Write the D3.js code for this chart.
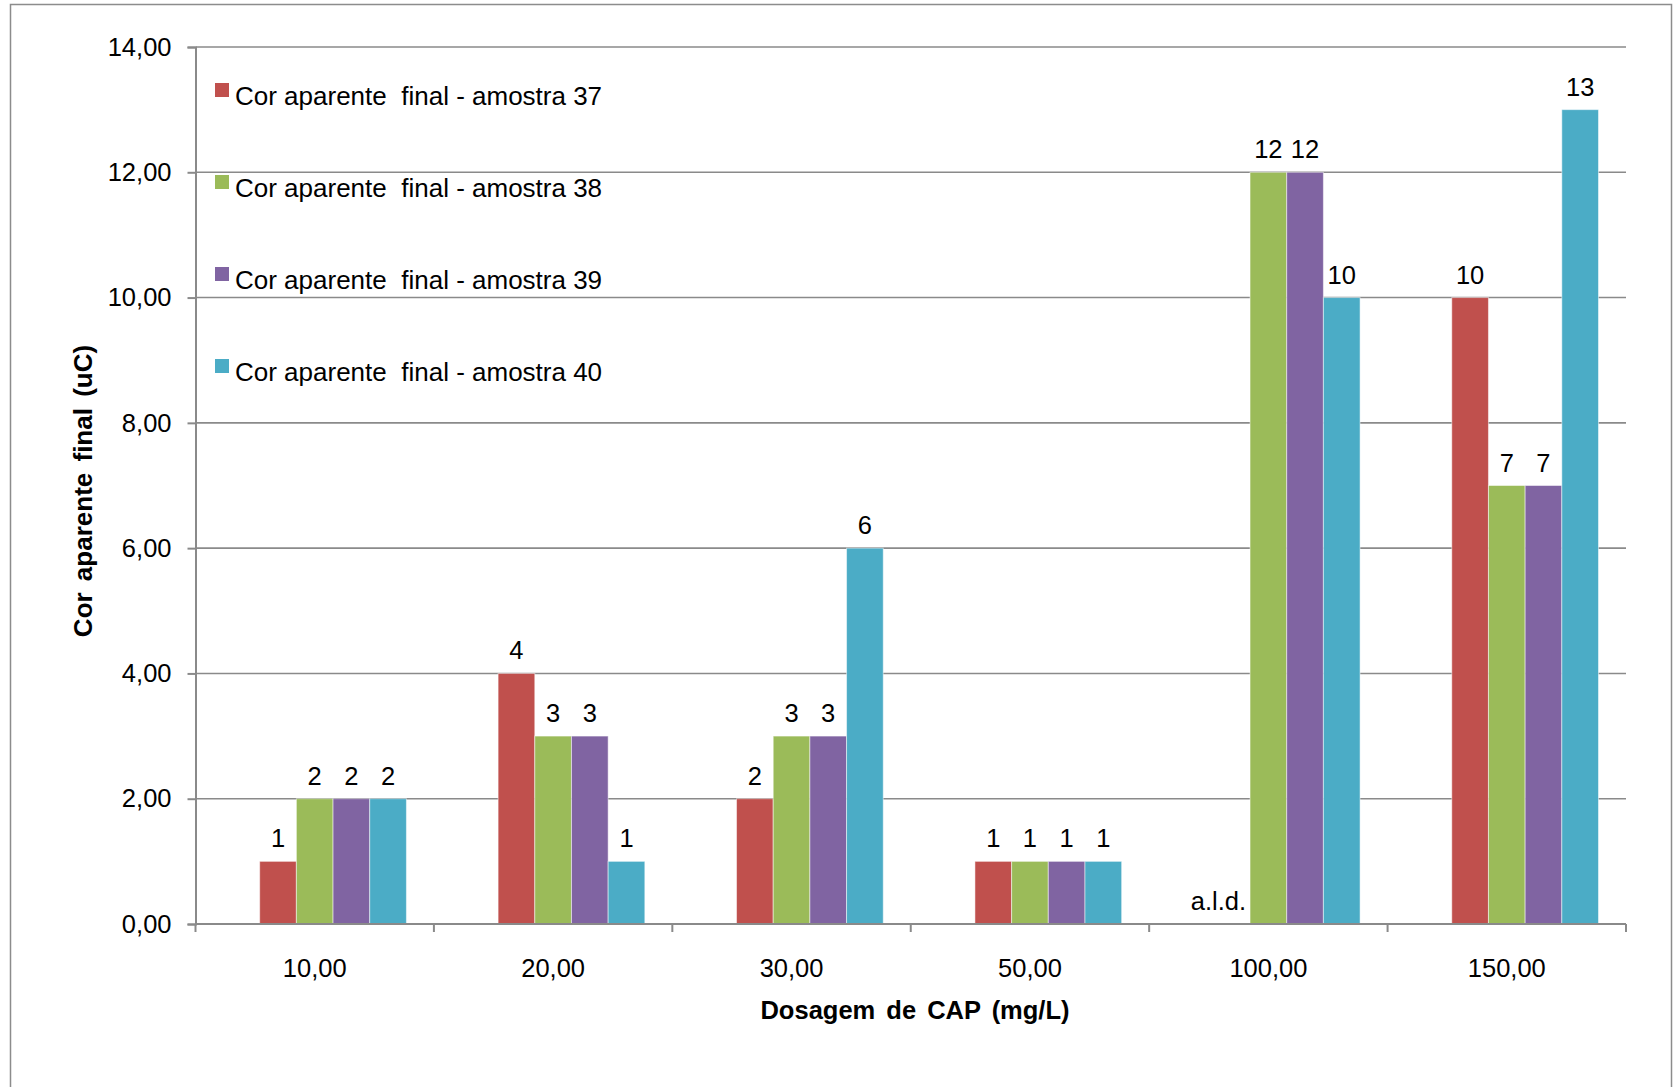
<!DOCTYPE html>
<html>
<head>
<meta charset="utf-8">
<script src="https://cdn.jsdelivr.net/npm/d3@7"></script>
<style>
  html, body { margin: 0; padding: 0; background: #fff; }
  svg { display: block; font-family: "Liberation Sans", Arial, sans-serif; }
</style>
</head>
<body>
<svg id="chart" width="1675" height="1087"></svg>
<script>
// ---- Data ----
const categories = ["10,00", "20,00", "30,00", "50,00", "100,00", "150,00"];
const seriesNames = [
  "Cor aparente  final - amostra 37",
  "Cor aparente  final - amostra 38",
  "Cor aparente  final - amostra 39",
  "Cor aparente  final - amostra 40"
];
const amostra37 = [1, 4, 2, 1, 0, 10];
const amostra38 = [2, 3, 3, 1, 12, 7];
const amostra39 = [2, 3, 3, 1, 12, 7];
const amostra40 = [2, 1, 6, 1, 10, 13];
const labels37 = ["1", "4", "2", "1", "a.l.d.", "10"];
const yTicks = [0, 2, 4, 6, 8, 10, 12, 14];
const seriesColors = ["#C0504D", "#9BBB59", "#8064A2", "#4BACC6"];
const xTitle = "Dosagem de CAP (mg/L)";
const yTitle = "Cor aparente final (uC)";

const seriesValues = [amostra37, amostra38, amostra39, amostra40];

// ---- Layout ----
const W = 1675, H = 1087;
const plot = { left: 195.5, right: 1626, top: 47, bottom: 924 };
const FS = 25.5;

const svg = d3.select("#chart");
svg.append("rect").attr("x", 0).attr("y", 0).attr("width", W).attr("height", H).attr("fill", "#fff");
svg.append("rect").attr("x", 10.5).attr("y", 4.5).attr("width", 1661).attr("height", 1100)
  .attr("fill", "none").attr("stroke", "#8c8c8c").attr("stroke-width", 1.5);

const x0 = d3.scaleBand().domain(categories).range([plot.left, plot.right]).paddingInner(0).paddingOuter(0);
const bw = x0.bandwidth();
const slot = bw / 6.5;
const x1 = d3.scaleBand().domain(d3.range(seriesNames.length))
  .range([0.75 * slot + slot, 0.75 * slot + 5 * slot]).padding(0);

const y = d3.scaleLinear().domain([0, 14]).range([plot.bottom, plot.top]);

const gridColor = "#8a8a8a";

svg.append("g").selectAll("line").data(yTicks).join("line")
  .attr("x1", plot.left).attr("x2", plot.right)
  .attr("y1", d => y(d)).attr("y2", d => y(d))
  .attr("stroke", gridColor).attr("stroke-width", 1.6);

const yAxis = d3.axisLeft(y).tickValues(yTicks).tickSize(8).tickPadding(16)
  .tickFormat(d => d3.format(".2f")(d).replace(".", ","));
const gy = svg.append("g").attr("transform", `translate(${plot.left},0)`).call(yAxis);
gy.select(".domain").attr("stroke", gridColor).attr("stroke-width", 2);
gy.selectAll(".tick line").attr("stroke", gridColor).attr("stroke-width", 2);
gy.selectAll(".tick text").attr("font-size", FS).attr("fill", "#000")
  .attr("font-family", "'Liberation Sans', Arial, sans-serif");

const groups = svg.append("g").selectAll("g").data(categories).join("g")
  .attr("transform", d => `translate(${x0(d)},0)`);

groups.each(function(cat, ci) {
  const g = d3.select(this);
  seriesValues.forEach((vals, si) => {
    const v = vals[ci];
    if (v > 0) {
      g.append("rect")
        .attr("x", x1(si)).attr("width", x1.bandwidth())
        .attr("y", y(v)).attr("height", y(0) - y(v))
        .attr("fill", seriesColors[si])
        .attr("stroke", "#ffffff").attr("stroke-opacity", 0.5).attr("stroke-width", 1);
    }
    const txt = si === 0 ? labels37[ci] : String(v);
    const isAld = (si === 0 && v === 0);
    g.append("text")
      .attr("x", isAld ? x1(si) + x1.bandwidth() - 4 : x1(si) + x1.bandwidth() / 2)
      .attr("y", y(v) - 14)
      .attr("text-anchor", isAld ? "end" : "middle")
      .attr("font-size", FS).attr("fill", "#000")
      .text(txt);
  });
});

svg.append("line").attr("x1", plot.left).attr("x2", plot.right)
  .attr("y1", plot.bottom).attr("y2", plot.bottom)
  .attr("stroke", gridColor).attr("stroke-width", 2.2);
const boundaries = categories.map(c => x0(c)).concat([plot.right]);
svg.append("g").selectAll("line").data(boundaries).join("line")
  .attr("x1", d => d).attr("x2", d => d)
  .attr("y1", plot.bottom).attr("y2", plot.bottom + 8)
  .attr("stroke", gridColor).attr("stroke-width", 2);
svg.append("g").selectAll("text").data(categories).join("text")
  .attr("x", d => x0(d) + bw / 2).attr("y", plot.bottom + 53)
  .attr("text-anchor", "middle").attr("font-size", FS).attr("fill", "#000")
  .text(d => d);

svg.append("text").attr("x", 915).attr("y", 1019)
  .attr("text-anchor", "middle").attr("font-size", FS).attr("font-weight", "bold")
  .attr("word-spacing", 4)
  .text(xTitle);
svg.append("text").attr("transform", "translate(92,491) rotate(-90)")
  .attr("text-anchor", "middle").attr("font-size", 26).attr("font-weight", "bold")
  .attr("word-spacing", 4)
  .text(yTitle);

const legendY = [96, 188, 280, 372];
const lg = svg.append("g").selectAll("g").data(seriesNames).join("g")
  .attr("transform", (d, i) => `translate(215,${legendY[i]})`);
lg.append("rect").attr("x", 0).attr("y", -13).attr("width", 14).attr("height", 14)
  .attr("fill", (d, i) => seriesColors[i]);
lg.append("text").attr("x", 20).attr("y", 9).attr("font-size", 26).attr("fill", "#000")
  .style("white-space", "pre")
  .text(d => d);
</script>
</body>
</html>
